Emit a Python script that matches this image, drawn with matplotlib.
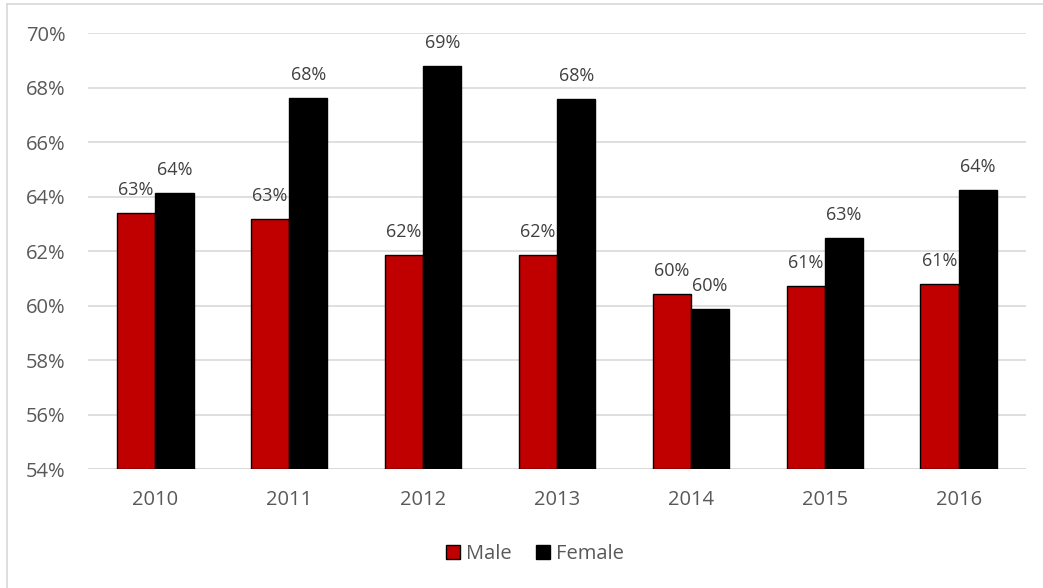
import matplotlib
matplotlib.use("Agg")
import matplotlib.pyplot as plt
from matplotlib.lines import Line2D
from matplotlib.patches import Patch
import numpy as np

years = ["2010", "2011", "2012", "2013", "2014", "2015", "2016"]
male = [63.41, 63.20, 61.85, 61.86, 60.42, 60.73, 60.80]
female = [64.13, 67.64, 68.81, 67.58, 59.87, 62.49, 64.26]
male_labels = ["63%", "63%", "62%", "62%", "60%", "61%", "61%"]
female_labels = ["64%", "68%", "69%", "68%", "60%", "63%", "64%"]
yticks = [54, 56, 58, 60, 62, 64, 66, 68, 70]

plt.rcParams['font.family'] = ['Open Sans', 'DejaVu Sans']
W, H = 1043, 588
fig = plt.figure(figsize=(W / 100, H / 100), dpi=100)
ax = fig.add_axes([88.3 / W, 1 - 469.3 / H, (1025.7 - 88.3) / W, (469.3 - 33.3) / H])

txt = '#595959'
x = np.arange(len(years))
bw = 0.286
ax.bar(x - bw / 2, [m - 54 for m in male], bw, bottom=54, color='#C00000',
       edgecolor='black', linewidth=1.0, zorder=3)
ax.bar(x + bw / 2, [f - 54 for f in female], bw, bottom=54, color='black',
       edgecolor='black', linewidth=1.0, zorder=3)

for i in range(len(years)):
    ax.annotate(male_labels[i], (x[i] - bw / 2, male[i]), xytext=(0, 16.5),
                textcoords='offset points', ha='center', va='center',
                fontsize=13, color='#404040', zorder=4)
    ax.annotate(female_labels[i], (x[i] + bw / 2, female[i]), xytext=(0, 16.5),
                textcoords='offset points', ha='center', va='center',
                fontsize=13, color='#404040', zorder=4)

ax.set_xlim(-0.5, len(years) - 0.5)
ax.set_ylim(54, 70)
ax.set_yticks(yticks)
ax.set_yticklabels([f"{t}%" for t in yticks])
ax.set_xticks(x)
ax.set_xticklabels(years)
ax.tick_params(axis='both', length=0, labelsize=14.5, labelcolor=txt)
ax.tick_params(axis='y', pad=16.5)
ax.tick_params(axis='x', pad=15)
ax.grid(axis='y', color='#D9D9D9', linewidth=1.2, zorder=0)
for s in ax.spines.values():
    s.set_visible(False)
ax.axhline(54, color='#D9D9D9', linewidth=1.2, zorder=2)

handles = [Patch(facecolor='#C00000', edgecolor='black', linewidth=1.0, label='Male'),
           Patch(facecolor='black', edgecolor='black', label='Female')]
fig.legend(handles=handles, loc='center', bbox_to_anchor=(535 / W, 1 - 554 / H),
           ncol=2, frameon=False, fontsize=14.5, handlelength=0.7, handleheight=0.7,
           handletextpad=0.3, columnspacing=1.2, labelcolor=txt)

# outer chart border (top and left visible)
fig.add_artist(Line2D([7 / W, 1], [1 - 4 / H, 1 - 4 / H], color='#D9D9D9', linewidth=1.2,
                      transform=fig.transFigure))
fig.add_artist(Line2D([7 / W, 7 / W], [1 - 4 / H, 0], color='#D9D9D9', linewidth=1.2,
                      transform=fig.transFigure))

fig.savefig('out.png', dpi=100)
